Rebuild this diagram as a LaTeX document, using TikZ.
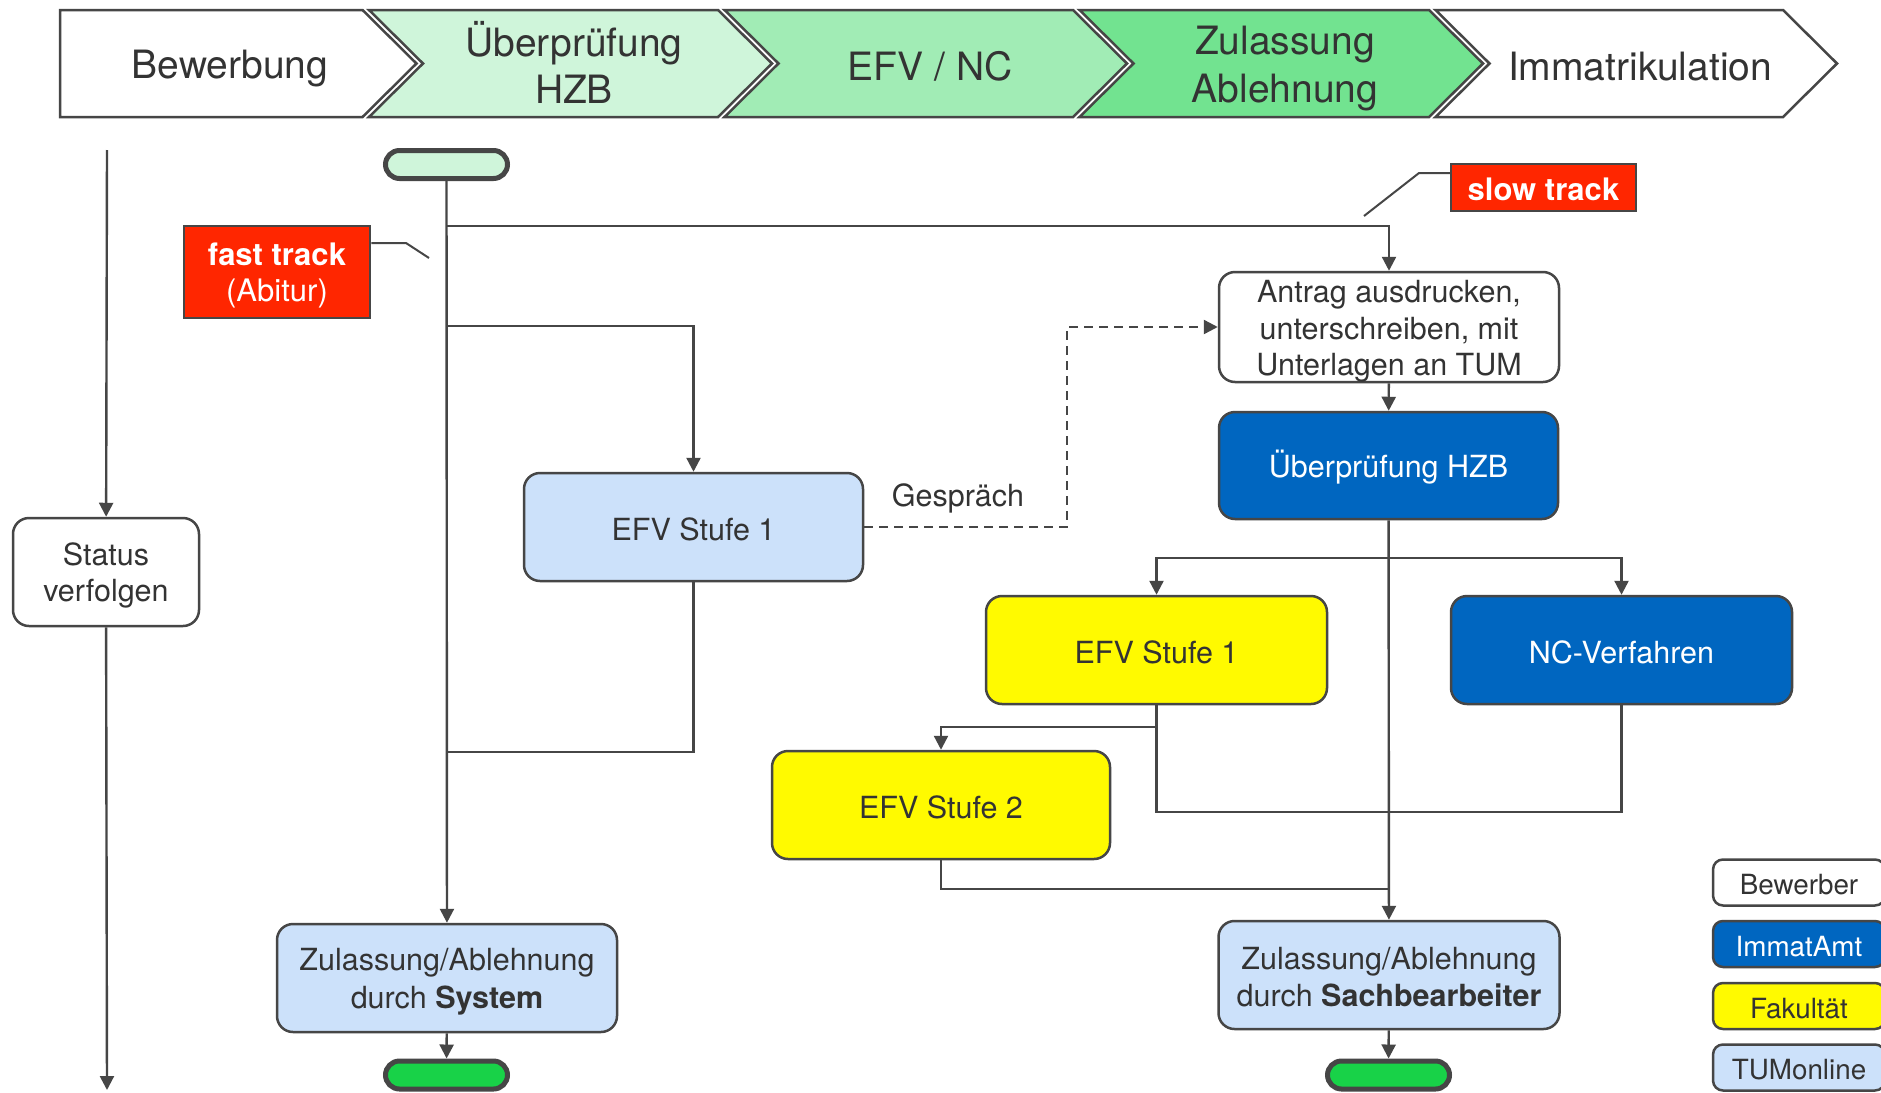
\documentclass[tikz,border=0pt]{standalone}
\usepackage{fontspec}
\setmainfont{TeX Gyre Heros}
\usetikzlibrary{arrows.meta,calc}

\definecolor{ink}{RGB}{70,70,70}
\definecolor{txt}{RGB}{51,51,51}
\definecolor{phaseA}{RGB}{207,245,218}
\definecolor{phaseB}{RGB}{161,236,181}
\definecolor{phaseC}{RGB}{114,227,144}
\definecolor{tumblue}{RGB}{204,225,250}
\definecolor{immablue}{RGB}{0,102,192}
\definecolor{fakyellow}{RGB}{255,250,0}
\definecolor{tagred}{RGB}{255,38,0}
\definecolor{startgreen}{RGB}{207,245,218}
\definecolor{endgreen}{RGB}{24,210,72}

\newcommand\headfont{\fontsize{39}{46}\selectfont}
\newcommand\bodyfont{\fontsize{30.5}{35.5}\selectfont}
\newcommand\tagfont{\fontsize{31}{36}\selectfont}
\newcommand\legfont{\fontsize{27.8}{32}\selectfont}
% line struts: every line gets the same height and depth, so text sits evenly in its box
\newcommand\strH{\rule[-5pt]{0pt}{43pt}}
\newcommand\strB{\rule[-4pt]{0pt}{34pt}}
\newcommand\strT{\rule[-4pt]{0pt}{34.5pt}}
\newcommand\strL{\rule[-3pt]{0pt}{30pt}}

\tikzset{
  phase/.style={draw=ink, line width=2.5pt, line join=miter},
  headtext/.style={font=\headfont, text=txt, align=center, inner sep=0pt},
  box/.style={draw=ink, line width=2.5pt, rounded corners=16pt, align=center,
    inner sep=0pt, font=\bodyfont, text=txt},
  pill/.style={draw=ink, line width=5pt, rounded corners=14pt, inner sep=0pt,
    minimum width=122pt, minimum height=28pt},
  tag/.style={draw=ink, fill=tagred, line width=2.5pt, text=white, align=center,
    inner sep=0pt, font=\tagfont},
  leg/.style={draw=ink, line width=2.5pt, rounded corners=10pt, inner sep=0pt,
    minimum width=172pt, minimum height=46pt, font=\legfont, text=txt},
  conn/.style={draw=ink, line width=2.4pt},
  arr/.style={conn, -{Triangle[length=14pt,width=14pt]}},
  callout/.style={draw=ink, line width=2pt},
}

\begin{document}
\begin{tikzpicture}[x=1pt,y=-1pt]
\useasboundingbox (0,0) rectangle (1881,1092);
\fill[white] (0,0) rectangle (1881,1092);

% ---- phase chevrons ----
\def\tip{54}
\draw[phase, fill=white] (60,10) -- (362.5,10) -- (362.5+\tip,63.5) -- (362.5,117) -- (60,117) -- cycle;
\draw[phase, fill=phaseA] (369,10) -- (718,10) -- (718+\tip,63.5) -- (718,117) -- (369,117) -- (369+\tip,63.5) -- cycle;
\draw[phase, fill=phaseB] (724.5,10) -- (1073,10) -- (1073+\tip,63.5) -- (1073,117) -- (724.5,117) -- (724.5+\tip,63.5) -- cycle;
\draw[phase, fill=phaseC] (1079.5,10) -- (1429,10) -- (1429+\tip,63.5) -- (1429,117) -- (1079.5,117) -- (1079.5+\tip,63.5) -- cycle;
\draw[phase, fill=white] (1435.5,10) -- (1783,10) -- (1783+\tip,63.5) -- (1783,117) -- (1435.5,117) -- (1435.5+\tip,63.5) -- cycle;

\node[headtext] (h1) at (230,63.5) {\strH Bewerbung};
\node[headtext] (h2) at (574,63.5) {\strH Überprüfung\\\strH HZB};
\node[headtext] (h3) at (930,63.5) {\strH EFV / NC};
\node[headtext] (h4) at (1285,63.5) {\strH Zulassung\\\strH Ablehnung};
\node[headtext] (h5) at (1640,63.5) {\strH Immatrikulation};

% ---- nodes ----
\node[pill, fill=startgreen] (start) at (446.5,164.5) {};
\node[pill, fill=endgreen] (endL) at (446.5,1075) {};
\node[pill, fill=endgreen] (endR) at (1388.5,1075) {};

\node[box, fill=white, minimum width=186pt, minimum height=108pt] (status) at (106,572)
  {\strB Status\\\strB verfolgen};

\node[tag, minimum width=186pt, minimum height=92pt] (fast) at (277,272)
  {\strT\textbf{fast track}\\\strT(Abitur)};
\node[tag, minimum width=185pt, minimum height=47pt] (slow) at (1543.5,187.5) {\strT\textbf{slow track}};

\node[box, fill=tumblue, minimum width=339pt, minimum height=108pt] (efvA) at (693.5,527) {\strB EFV Stufe 1};
\node[box, fill=white, minimum width=340pt, minimum height=110pt] (antrag) at (1389,327)
  {\strB Antrag ausdrucken,\\\strB unterschreiben, mit\\\strB Unterlagen an TUM};
\node[box, fill=immablue, text=white, minimum width=339pt, minimum height=107pt] (hzb) at (1388.5,465.5)
  {\strB Überprüfung HZB};
\node[box, fill=fakyellow, minimum width=341pt, minimum height=108pt] (efvB) at (1156.5,650) {\strB EFV Stufe 1};
\node[box, fill=immablue, text=white, minimum width=341pt, minimum height=108pt] (nc) at (1621.5,650)
  {\strB NC-Verfahren};
\node[box, fill=fakyellow, minimum width=338pt, minimum height=108pt] (efvC) at (941,805) {\strB EFV Stufe 2};
\node[box, fill=tumblue, minimum width=340pt, minimum height=108pt] (zsys) at (447,978)
  {\strB Zulassung/Ablehnung\\\strB durch \textbf{System}};
\node[box, fill=tumblue, minimum width=341pt, minimum height=108pt] (zsach) at (1389,975)
  {\strB Zulassung/Ablehnung\\\strB durch \textbf{Sachbearbeiter}};

\node[font=\bodyfont, text=txt, inner sep=0pt] (gespraech) at (958,495) {\strB Gespräch};

% ---- legend ----
\node[leg, fill=white] (lgA) at (1799,882.5) {\strL Bewerber};
\node[leg, fill=immablue, text=white] (lgB) at (1799,944) {\strL ImmatAmt};
\node[leg, fill=fakyellow] (lgC) at (1799,1006) {\strL Fakultät};
\node[leg, fill=tumblue] (lgD) at (1799,1067.5) {\strL TUMonline};

% ---- junction points ----
\coordinate (laneTop) at (107,150);
\coordinate (laneBot) at (107,1090);
\coordinate (j1) at (446.5,226);
\coordinate (j2) at (446.5,326);
\coordinate (j3) at (446.5,752);
\coordinate (dk) at (1067,327);
\coordinate (j4) at (1388.5,558);
\coordinate (j5) at (1156.5,727);
\coordinate (j6) at (1156.5,812);
\coordinate (j7) at (1389,889);

% ---- applicant lane ----
\draw[arr] (laneTop) -- (status);
\draw[arr] (status) -- (laneBot);

% ---- fast track ----
\draw[arr] (start) -- (zsys);
\draw[arr] (j2) -| (efvA.north);
\draw[conn] (efvA.south) |- (j3);
\draw[arr, dash pattern=on 9pt off 6pt] (efvA.east) -| (dk) -- (antrag.west);
\draw[arr] (zsys) -- (endL);

% ---- slow track ----
\draw[arr] (j1) -| (antrag.north);
\draw[arr] (antrag) -- (hzb);
\draw[arr] (hzb) -- (zsach);
\draw[arr] (j4) -| (efvB.north);
\draw[arr] (j4) -| (nc.north);
\draw[arr] (efvB.south) -- (j5) -| (efvC.north);
\draw[conn] (j5) -- (j6) -| (nc.south);
\draw[conn] (efvC.south) |- (j7);
\draw[arr] (zsach) -- (endR);

% ---- callouts ----
\draw[callout] (fast.east |- 0,243) -- (406,243) -- (429,258);
\draw[callout] (slow.west |- 0,173) -- (1419,173) -- (1364,216);
\end{tikzpicture}
\end{document}
